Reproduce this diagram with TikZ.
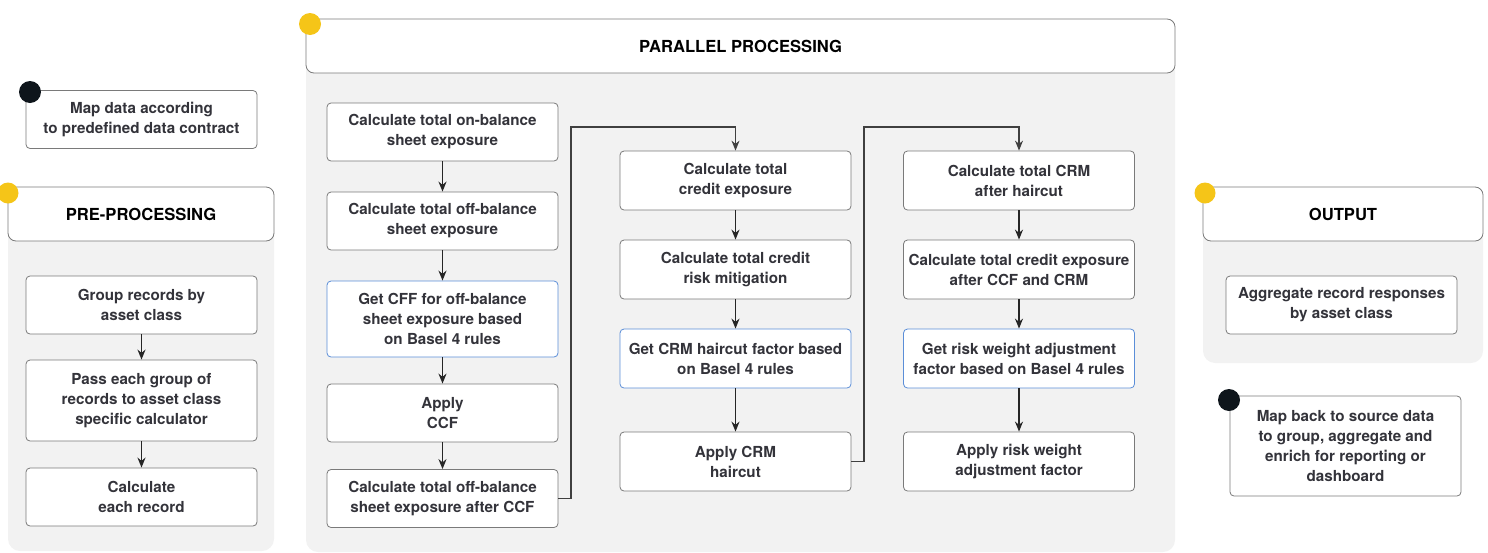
\documentclass[tikz,border=0pt]{standalone}
\usepackage{fontspec}
\setmainfont{TeX Gyre Heros}
\usetikzlibrary{arrows.meta}
\definecolor{panelgray}{HTML}{F2F2F2}
\definecolor{boxgray}{HTML}{7A7A7A}
\definecolor{ruleblue}{HTML}{5B8ED8}
\definecolor{textgray}{HTML}{33333A}
\definecolor{dotyellow}{HTML}{F5C518}
\definecolor{dotblack}{HTML}{0E151B}
\newcommand{\boxfont}{\fontsize{15.2}{20}\selectfont\bfseries}
\newcommand{\headfont}{\fontsize{16.6}{20}\selectfont\bfseries}
\tikzset{
  stepbox/.style={draw=boxgray, fill=white, rounded corners=4pt, line width=0.8pt,
    minimum width=231pt, minimum height=58pt, inner sep=2pt, align=center,
    text=textgray, font=\boxfont},
  rulebox/.style={stepbox, draw=ruleblue},
  headbox/.style={draw=boxgray, fill=white, rounded corners=8pt, line width=0.8pt,
    minimum height=54pt, inner sep=0pt, text=black, font=\headfont},
  panel/.style={fill=panelgray, rounded corners=12pt},
  flow/.style={-{Stealth[length=10pt,width=8pt]}, line width=1.6pt, draw=black!85},
  loopline/.style={-{Stealth[length=10pt,width=8pt]}, line width=1.2pt, draw=black!75}
}
\begin{document}
\begin{tikzpicture}[x=1pt, y=-1pt]
  \useasboundingbox (0,0) rectangle (1488,552);

  % Pre-processing -----------------------------------------------------------
  \fill[panel] (8,215) rectangle (274,551);
  \node[headbox, minimum width=266pt] (prehead) at (141,214) {PRE-PROCESSING};
  \fill[dotyellow] (8,193) circle (10.5pt);
  \node[stepbox] (mapin) at (141.5,119.5) {Map data according\\to predefined data contract};
  \fill[dotblack] (30,92) circle (11pt);
  \node[stepbox] (group) at (141.5,305) {Group records by\\asset class};
  \node[stepbox, minimum height=81pt] (pass) at (141.5,400.5) {Pass each group of\\records to asset class\\specific calculator};
  \node[stepbox] (each) at (141.5,497) {Calculate\\each record};
  \draw[flow] (group) -- (pass);
  \draw[flow] (pass) -- (each);

  % Parallel processing ------------------------------------------------------
  \fill[panel] (306,46) rectangle (1175,552);
  \node[headbox, minimum width=869pt] (parhead) at (740.5,46) {PARALLEL PROCESSING};
  \fill[dotyellow] (310,24) circle (11pt);

  % columna 1
  \node[stepbox] (onbal) at (442.5,132) {Calculate total on-balance\\sheet exposure};
  \node[stepbox] (offbal) at (442.5,221) {Calculate total off-balance\\sheet exposure};
  \node[rulebox, minimum height=76pt] (ccfrule) at (442.5,319) {Get CFF for off-balance\\sheet exposure based\\on Basel 4 rules};
  \node[stepbox] (ccf) at (442.5,413) {Apply\\CCF};
  \node[stepbox] (afterccf) at (442.5,498.5) {Calculate total off-balance\\sheet exposure after CCF};
  \draw[flow] (onbal) -- (offbal);
  \draw[flow] (offbal) -- (ccfrule);
  \draw[flow] (ccfrule) -- (ccf);
  \draw[flow] (ccf) -- (afterccf);

  % columna 2
  \node[stepbox, minimum height=59pt] (credit) at (735.5,180.5) {Calculate total\\credit exposure};
  \node[stepbox, minimum height=59pt] (crm) at (735.5,269.5) {Calculate total credit\\risk mitigation};
  \node[rulebox, minimum height=59pt] (crmrule) at (735.5,358.5) {Get CRM haircut factor based\\on Basel 4 rules};
  \node[stepbox, minimum height=59pt] (haircut) at (735.5,461.5) {Apply CRM\\haircut};
  \draw[flow] (credit) -- (crm);
  \draw[flow] (crm) -- (crmrule);
  \draw[flow] (crmrule) -- (haircut);

  % columna 3
  \node[stepbox, minimum height=59pt] (crmafter) at (1019,180.5) {Calculate total CRM\\after haircut};
  \node[stepbox, minimum height=59pt] (exposure) at (1019,269.5) {Calculate total credit exposure\\after CCF and CRM};
  \node[rulebox, minimum height=59pt] (rwrule) at (1019,358.5) {Get risk weight adjustment\\factor based on Basel 4 rules};
  \node[stepbox, minimum height=59pt] (rw) at (1019,461.5) {Apply risk weight\\adjustment factor};
  \draw[flow] (crmafter) -- (exposure);
  \draw[flow] (exposure) -- (rwrule);
  \draw[flow] (rwrule) -- (rw);

  % enlaces entre columnas
  \coordinate (turnA) at (571,127);
  \coordinate (turnB) at (864,127);
  \draw[loopline] (afterccf.east) -| (turnA) -| (credit.north);
  \draw[loopline] (haircut.east) -| (turnB) -| (crmafter.north);

  % Output -------------------------------------------------------------------
  \fill[panel] (1203,215) rectangle (1483,363);
  \node[headbox, minimum width=280pt] (outhead) at (1343,214) {OUTPUT};
  \fill[dotyellow] (1205,193) circle (10.5pt);
  \node[stepbox] (aggregate) at (1341.5,305) {Aggregate record responses\\by asset class};
  \node[stepbox, minimum height=100pt] (mapback) at (1345.5,446) {Map back to source data\\to group, aggregate and\\enrich for reporting or\\dashboard};
  \fill[dotblack] (1229,400) circle (11pt);
\end{tikzpicture}
\end{document}
